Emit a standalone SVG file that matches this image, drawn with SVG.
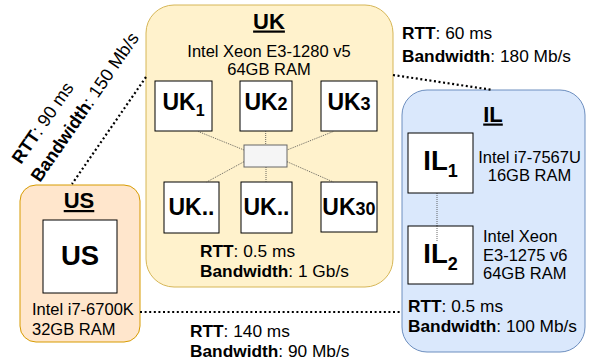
<svg xmlns="http://www.w3.org/2000/svg" width="592" height="364" viewBox="0 0 592 364">
<style>
text{font-family:"Liberation Sans",Arial,Helvetica,sans-serif;fill:#000}
.spec{font-size:16.5px}
.net{font-size:17.3px}
.rot{font-size:18px}
.b{font-weight:bold}
.title{font-size:22px;font-weight:bold;text-decoration:underline;text-anchor:middle}
.node{fill:#fff;stroke:#000;stroke-width:1}
.ukn{font-size:23px;font-weight:bold;text-anchor:middle}
.big{font-size:27.5px;font-weight:bold;text-anchor:middle}
.wan{stroke:#000;stroke-width:2.2;stroke-dasharray:2 2.6;fill:none}
.lan{stroke:#444;stroke-width:0.8;stroke-dasharray:1 1;fill:none}
</style>
<g id="uk">
<rect x="146" y="5" width="247" height="282" rx="28" fill="#fff2cc" stroke="#d6b656" stroke-width="1"/>
<text class="title" x="269" y="28.5">UK</text>
<text class="spec" x="269" y="57" text-anchor="middle">Intel Xeon E3-1280 v5</text>
<text class="spec" x="269" y="75" text-anchor="middle">64GB RAM</text>
<text class="net" x="200" y="257"><tspan class="b">RTT</tspan>: 0.5 ms</text>
<text class="net" x="200" y="277"><tspan class="b">Bandwidth</tspan>: 1 Gb/s</text>
</g>
<g id="switch"><rect x="244" y="145" width="43" height="22" fill="#f5f5f5" stroke="#666666" stroke-width="1"/></g>
<g id="uk1"><rect class="node" x="155" y="81" width="57" height="50"/><text class="ukn" x="183.5" y="110">UK<tspan font-size="16" dy="6">1</tspan></text></g>
<g id="uk2"><rect class="node" x="240" y="81" width="52" height="50"/><text class="ukn" x="266" y="110">UK<tspan font-size="18">2</tspan></text></g>
<g id="uk3"><rect class="node" x="321" y="81" width="56" height="50"/><text class="ukn" x="349" y="110">UK<tspan font-size="18">3</tspan></text></g>
<g id="uk4"><rect class="node" x="164" y="182" width="55" height="51"/><text class="ukn" x="191.5" y="215">UK..</text></g>
<g id="uk5"><rect class="node" x="241" y="182" width="51" height="51"/><text class="ukn" x="266.5" y="215">UK..</text></g>
<g id="uk30"><rect class="node" x="321" y="182" width="56" height="50"/><text class="ukn" x="349" y="215">UK<tspan font-size="18">30</tspan></text></g>
<g id="us">
<rect x="20" y="185" width="120" height="157" rx="16" fill="#ffe6cc" stroke="#d79b00" stroke-width="1"/>
<text class="title" x="79" y="208">US</text>
<text class="spec" x="32" y="315">Intel i7-6700K</text>
<text class="spec" x="32" y="335">32GB RAM</text>
</g>
<g id="us1"><rect class="node" x="43" y="220" width="74" height="73"/><text class="big" x="80" y="265">US</text></g>
<g id="il">
<rect x="402" y="90" width="183" height="262" rx="25" fill="#dae8fc" stroke="#6c8ebf" stroke-width="1"/>
<text class="title" x="493" y="121.5">IL</text>
<text class="spec" x="529.5" y="163" text-anchor="middle">Intel i7-7567U</text>
<text class="spec" x="529.5" y="180.5" text-anchor="middle">16GB RAM</text>
<text class="spec" x="483" y="242">Intel Xeon</text>
<text class="spec" x="483" y="260.5">E3-1275 v6</text>
<text class="spec" x="483" y="279">64GB RAM</text>
<text class="net" x="408" y="312"><tspan class="b">RTT</tspan>: 0.5 ms</text>
<text class="net" x="408" y="332"><tspan class="b">Bandwidth</tspan>: 100 Mb/s</text>
</g>
<g id="connectors">
<line class="lan" x1="198.3" y1="131.5" x2="244" y2="150"/>
<line class="lan" x1="265.7" y1="131" x2="265.7" y2="145"/>
<line class="lan" x1="333.3" y1="131.5" x2="287" y2="150"/>
<line class="lan" x1="244" y1="161.7" x2="206.7" y2="182"/>
<line class="lan" x1="266" y1="167" x2="266" y2="182"/>
<line class="lan" x1="287" y1="161.7" x2="333.3" y2="182"/>
<line class="lan" x1="437" y1="193" x2="437" y2="242"/>
<line class="wan" x1="146" y1="77" x2="72" y2="184"/>
<line class="wan" x1="393" y1="75" x2="493" y2="90"/>
<line class="wan" x1="140" y1="312" x2="402" y2="312"/>
</g>
<g id="il1"><rect class="node" x="408" y="133" width="65" height="60"/><text class="big" x="440.5" y="170">IL<tspan font-size="18" dy="7">1</tspan></text></g>
<g id="il2"><rect class="node" x="408" y="226" width="65" height="58"/><text class="big" x="440.5" y="263">IL<tspan font-size="18" dy="7">2</tspan></text></g>
<line class="lan" x1="437" y1="226" x2="437" y2="242"/>
<g id="labels">
<text class="rot" transform="translate(21,165) rotate(-55.5)"><tspan class="b">RTT</tspan>: 90 ms</text>
<text class="rot" transform="translate(40,183) rotate(-55.5)"><tspan class="b">Bandwidth</tspan>: 150 Mb/s</text>
<text class="net" x="402" y="38.5"><tspan class="b">RTT</tspan>: 60 ms</text>
<text class="net" x="402" y="62"><tspan class="b">Bandwidth</tspan>: 180 Mb/s</text>
<text class="net" x="190" y="336.5"><tspan class="b">RTT</tspan>: 140 ms</text>
<text class="net" x="190" y="356.5"><tspan class="b">Bandwidth</tspan>: 90 Mb/s</text>
</g>
</svg>
